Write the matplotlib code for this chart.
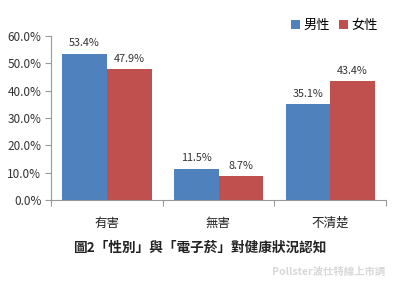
import matplotlib
matplotlib.use("Agg")
import matplotlib.pyplot as plt
import numpy as np

plt.rcParams['font.family'] = ['Noto Sans CJK TC', 'DejaVu Sans']

categories = ['有害', '無害', '不清楚']
series_names = ['男性', '女性']
male = [53.4, 11.5, 35.1]
female = [47.9, 8.7, 43.4]
colors = ['#4F81BD', '#C0504D']
yticks = [0, 10, 20, 30, 40, 50, 60]

fig = plt.figure(figsize=(4.0, 2.85), dpi=100)
ax = fig.add_axes([0.1275, 0.298, 0.8375, 0.576])

x = np.arange(len(categories))
w = 0.4
for i, (vals, name) in enumerate(zip([male, female], series_names)):
    pos = x + (i - 0.5) * w
    ax.bar(pos, vals, width=w, color=colors[i], label=name)
    for p, v in zip(pos, vals):
        ax.text(p, v + 2.0, f'{v:.1f}%', ha='center', va='bottom', fontsize=7.8, color='#333333')

ax.set_xlim(-0.5, len(categories) - 0.5)
ax.set_ylim(0, 60)
ax.set_yticks(yticks)
ax.set_yticklabels([f'{t:.1f}%' for t in yticks], fontsize=8.5, color='#333333')
ax.set_xticks(np.arange(-0.5, len(categories), 1.0))
ax.set_xticklabels([])
ax.set_xticks(x, minor=True)
ax.set_xticklabels(categories, minor=True, fontsize=9, color='#222222')
ax.tick_params(axis='x', which='minor', length=0, pad=12)
ax.tick_params(axis='x', which='major', length=4, color='#999999', direction='out')
ax.tick_params(axis='y', length=4, color='#999999', direction='out', pad=3)
for s in ['top', 'right']:
    ax.spines[s].set_visible(False)
for s in ['left', 'bottom']:
    ax.spines[s].set_color('#999999')
    ax.spines[s].set_linewidth(0.8)

leg = fig.legend(loc='upper right', bbox_to_anchor=(0.975, 0.975), ncol=2, frameon=False,
                 fontsize=9.5, handlelength=0.7, handleheight=0.7, handletextpad=0.25,
                 columnspacing=0.7)

fig.text(0.5, 0.13, '圖2「性別」與「電子菸」對健康狀況認知', ha='center', va='center',
         fontsize=9.8, fontweight='bold', color='#222222')
fig.text(0.963, 0.045, 'Pollster波仕特線上市調', ha='right', va='center',
         fontsize=7.5, fontweight='bold', color='#d8d8d8')

fig.savefig('out.png', dpi=100, facecolor='white')
